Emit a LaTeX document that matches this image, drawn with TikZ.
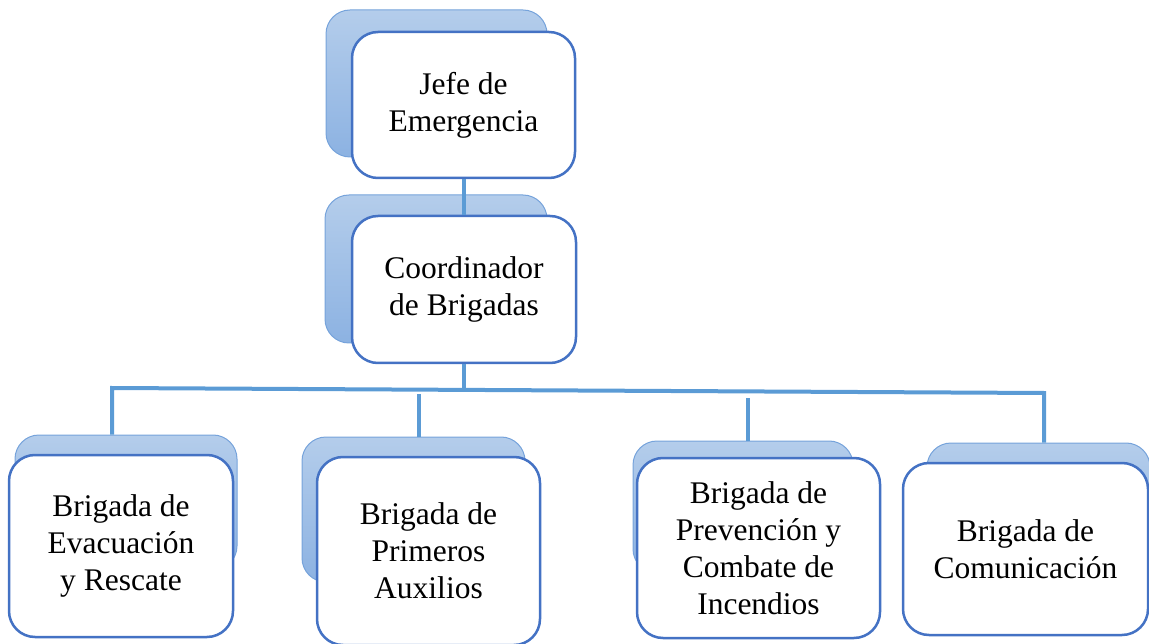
\documentclass[tikz,border=0pt]{standalone}
\usepackage{fontspec}
\setmainfont{Liberation Serif}
\usetikzlibrary{positioning}

\definecolor{boxline}{RGB}{68,114,196}
\definecolor{linkline}{RGB}{91,155,213}
\definecolor{shadetop}{RGB}{180,205,235}
\definecolor{shadebot}{RGB}{140,178,226}
\definecolor{shadeline}{RGB}{118,163,219}

\pgfdeclarelayer{shade}
\pgfsetlayers{shade,main}

\tikzset{
  backbox/.style={rounded corners=24pt, draw=shadeline, line width=1pt,
    top color=shadetop, bottom color=shadebot, inner sep=0pt},
  frontbox/.style={rounded corners=26pt, draw=boxline, line width=2.5pt,
    fill=white, inner sep=0pt, align=center,
    font=\fontsize{31.5}{37}\selectfont,
    execute at begin node={\rule{0pt}{36pt}}},
  link/.style={draw=linkline, line width=4pt}
}

\begin{document}
\begin{tikzpicture}[x=1pt,y=-1pt]
\useasboundingbox (0,0) rectangle (1149,644);
\clip (0,0) rectangle (1149,644);

\begin{pgfonlayer}{shade}
\foreach \name/\x/\y/\w/\h in {jefeB/436.5/83.5/221/147, coordB/436/269/222/148,
    evacB/126/502.5/222/135, primB/413.5/509.5/223/145,
    prevB/743/507/220/132, comB/1038.5/510/223/134}{
  \node[backbox, minimum width=\w pt, minimum height=\h pt] (\name) at (\x,\y) {};
}
\end{pgfonlayer}

\node[frontbox, minimum width=223pt, minimum height=146pt] (jefe) at (463.5,105) {Jefe de\\Emergencia};
\node[frontbox, minimum width=224pt, minimum height=147pt] (coord) at (464,289.5) {Coordinador\\de Brigadas};
\node[frontbox, minimum width=224pt, minimum height=182pt] (evac) at (121,546) {Brigada de\\Evacuación\\y Rescate};
\node[frontbox, minimum width=223pt, minimum height=188pt] (prim) at (428.5,551) {Brigada de\\Primeros\\Auxilios};
\node[frontbox, minimum width=243pt, minimum height=180pt] (prev) at (758.5,548) {Brigada de\\Prevención y\\Combate de\\Incendios};
\node[frontbox, minimum width=245pt, minimum height=172pt] (com) at (1025.5,549) {Brigada de\\Comunicación};

\coordinate (busL) at (112,388);
\coordinate (busR) at (1044,393);
\coordinate (busM) at (464,391);
\coordinate (tapP) at (419,394);
\coordinate (tapV) at (748,398);

\draw[link] (jefe.south) -- (jefe.south |- coord.north);
\draw[link] (coord.south) -- (busM);
\draw[link] (busL |- evacB.north) -- (busL) -- (busR) -- (busR |- comB.north);
\draw[link] (tapP) -- (tapP |- primB.north);
\draw[link] (tapV) -- (tapV |- prevB.north);
\end{tikzpicture}
\end{document}
